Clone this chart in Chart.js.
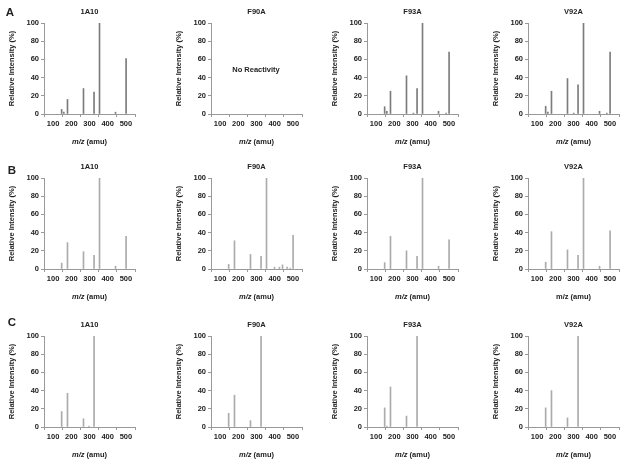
<!DOCTYPE html>
<html>
<head>
<meta charset="utf-8">
<script src="https://cdn.jsdelivr.net/npm/chart.js@4.4.1/dist/chart.umd.min.js"></script>
<style>
  body { margin: 0; background: #fff; width: 624px; height: 463px; position: relative; overflow: hidden;
         font-family: "Liberation Sans", Arial, sans-serif; color: #222; }
  .lbl { position: absolute; font-weight: bold; font-size: 7.5px; white-space: nowrap; transform: translate(-50%, -50%); }
  .letter { font-size: 11.5px; }
  .panel { position: absolute; }
</style>
</head>
<body>
<script>
const VARIANTS = ["1A10", "F90A", "F93A", "V92A"];
const ROWS = ["A", "B", "C"];
const X_TICKS = [100, 200, 300, 400, 500];
const Y_TICKS = [0, 20, 40, 60, 80, 100];

// row A
const A_1A10_MZ = [147, 159, 179, 267, 325, 355, 443, 501];
const A_1A10_INT = [5, 2, 16, 28, 24, 100, 2, 61];
const A_F93A_MZ = [147, 159, 179, 267, 305, 325, 355, 443, 485, 501];
const A_F93A_INT = [8, 3, 25, 42, 1, 28, 100, 3, 1, 68];
const A_V92A_MZ = [147, 159, 179, 267, 301, 325, 355, 443, 483, 501];
const A_V92A_INT = [8.5, 2, 25, 39, 1, 32, 100, 3, 1, 68];

// row B
const B_1A10_MZ = [147, 179, 267, 325, 355, 443, 501];
const B_1A10_INT = [6.5, 29, 19, 15, 100, 3, 36];
const B_F90A_MZ = [147, 179, 267, 325, 355, 399, 426, 443, 468, 485, 501];
const B_F90A_INT = [5, 31, 16, 14, 100, 2, 2, 4.5, 2, 1, 37];
const B_F93A_MZ = [147, 179, 267, 325, 355, 443, 501];
const B_F93A_INT = [7, 36, 20, 14, 100, 3, 32];
const B_V92A_MZ = [147, 179, 267, 325, 355, 443, 501];
const B_V92A_INT = [7.5, 41, 21, 15, 100, 3, 42];

// row C
const C_1A10_MZ = [147, 179, 267, 297, 325];
const C_1A10_INT = [17, 37, 9, 1, 100];
const C_F90A_MZ = [147, 179, 267, 325];
const C_F90A_INT = [15, 35, 7, 100];
const C_F93A_MZ = [147, 159, 179, 267, 325];
const C_F93A_INT = [21, 1, 44, 12, 100];
const C_V92A_MZ = [147, 179, 267, 325];
const C_V92A_INT = [21, 40, 10, 100];

const PANELS = [
  [[A_1A10_MZ, A_1A10_INT], null, [A_F93A_MZ, A_F93A_INT], [A_V92A_MZ, A_V92A_INT]],
  [[B_1A10_MZ, B_1A10_INT], [B_F90A_MZ, B_F90A_INT], [B_F93A_MZ, B_F93A_INT], [B_V92A_MZ, B_V92A_INT]],
  [[C_1A10_MZ, C_1A10_INT], [C_F90A_MZ, C_F90A_INT], [C_F93A_MZ, C_F93A_INT], [C_V92A_MZ, C_V92A_INT]],
];

// layout
const COL_X = [44, 211, 367, 528];
const ROW_Y = [23, 178, 336];
const PW = 91, PH = 91, YW = 37, XH = 32, PAD_T = 8, PAD_R = 4;
const AXIS = "#999";
const TXT = "#222";
const BAR_COLORS = ["#7c7c7c", "#ababab", "#ababab"];
const FONT = { family: '"Liberation Sans", Arial, sans-serif', size: 7.5, weight: "bold" };

function label(text, x, y, cls, html) {
  const d = document.createElement("div");
  d.className = "lbl" + (cls ? " " + cls : "");
  if (html) d.innerHTML = text; else d.textContent = text;
  d.style.left = x + "px";
  d.style.top = y + "px";
  document.body.appendChild(d);
}

function makePanel(r, c) {
  const p = PANELS[r][c];
  const pts = p ? p[0].map((m, i) => ({ x: m, y: p[1][i] })) : [];

  const wrap = document.createElement("div");
  wrap.className = "panel";
  wrap.style.left = (COL_X[c] - YW) + "px";
  wrap.style.top = (ROW_Y[r] - PAD_T) + "px";
  const cv = document.createElement("canvas");
  cv.width = YW + PW + PAD_R;
  cv.height = PAD_T + PH + XH;
  cv.style.width = cv.width + "px";
  cv.style.height = cv.height + "px";
  wrap.appendChild(cv);
  document.body.appendChild(wrap);

  const chart = new Chart(cv.getContext("2d"), {
    type: "bar",
    data: {
      datasets: [{
        data: pts,
        backgroundColor: BAR_COLORS[r],
        borderWidth: 0,
        barThickness: 1,
        grouped: false,
      }],
    },
    options: {
      responsive: false,
      animation: false,
      events: [],
      layout: { padding: { top: PAD_T, right: PAD_R, left: 0, bottom: 0 } },
      plugins: { legend: { display: false }, tooltip: { enabled: false } },
      scales: {
        x: {
          type: "linear",
          min: 50,
          max: 550,
          offset: false,
          afterBuildTicks: (s) => { s.ticks = X_TICKS.map((v) => ({ value: v })); },
          afterFit: (s) => { s.height = XH; },
          grid: { drawOnChartArea: false, tickLength: 3, color: AXIS },
          border: { color: AXIS },
          ticks: { font: FONT, color: TXT, padding: 2, maxRotation: 0, autoSkip: false },
        },
        y: {
          min: 0,
          max: 100,
          afterBuildTicks: (s) => { s.ticks = Y_TICKS.map((v) => ({ value: v })); },
          afterFit: (s) => { s.width = YW; },
          grid: { drawOnChartArea: false, tickLength: 3, color: AXIS },
          border: { color: AXIS },
          ticks: { font: FONT, color: TXT, padding: 2 },
          title: { display: true, text: "Relative Intensity (%)", font: FONT, color: TXT, padding: 0 },
        },
      },
    },
  });

  // pin the plot area to its place on the page
  wrap.style.left = (COL_X[c] - chart.chartArea.left) + "px";
  wrap.style.top = (ROW_Y[r] - chart.chartArea.top) + "px";

  const cx = COL_X[c] + PW / 2;
  label(VARIANTS[c], cx, ROW_Y[r] - 12);
  const mz = (r === 1 && c === 3) ? "m/z (amu)" : "<i>m/z</i> (amu)";
  label(mz, cx, ROW_Y[r] + PH + 27, "", true);
}

for (let r = 0; r < ROWS.length; r++) {
  for (let c = 0; c < VARIANTS.length; c++) makePanel(r, c);
}

label("A", 10, 12, "letter");
label("B", 12, 170, "letter");
label("C", 12, 322, "letter");
label("No Reactivity", 256, 69);
</script>
</body>
</html>
